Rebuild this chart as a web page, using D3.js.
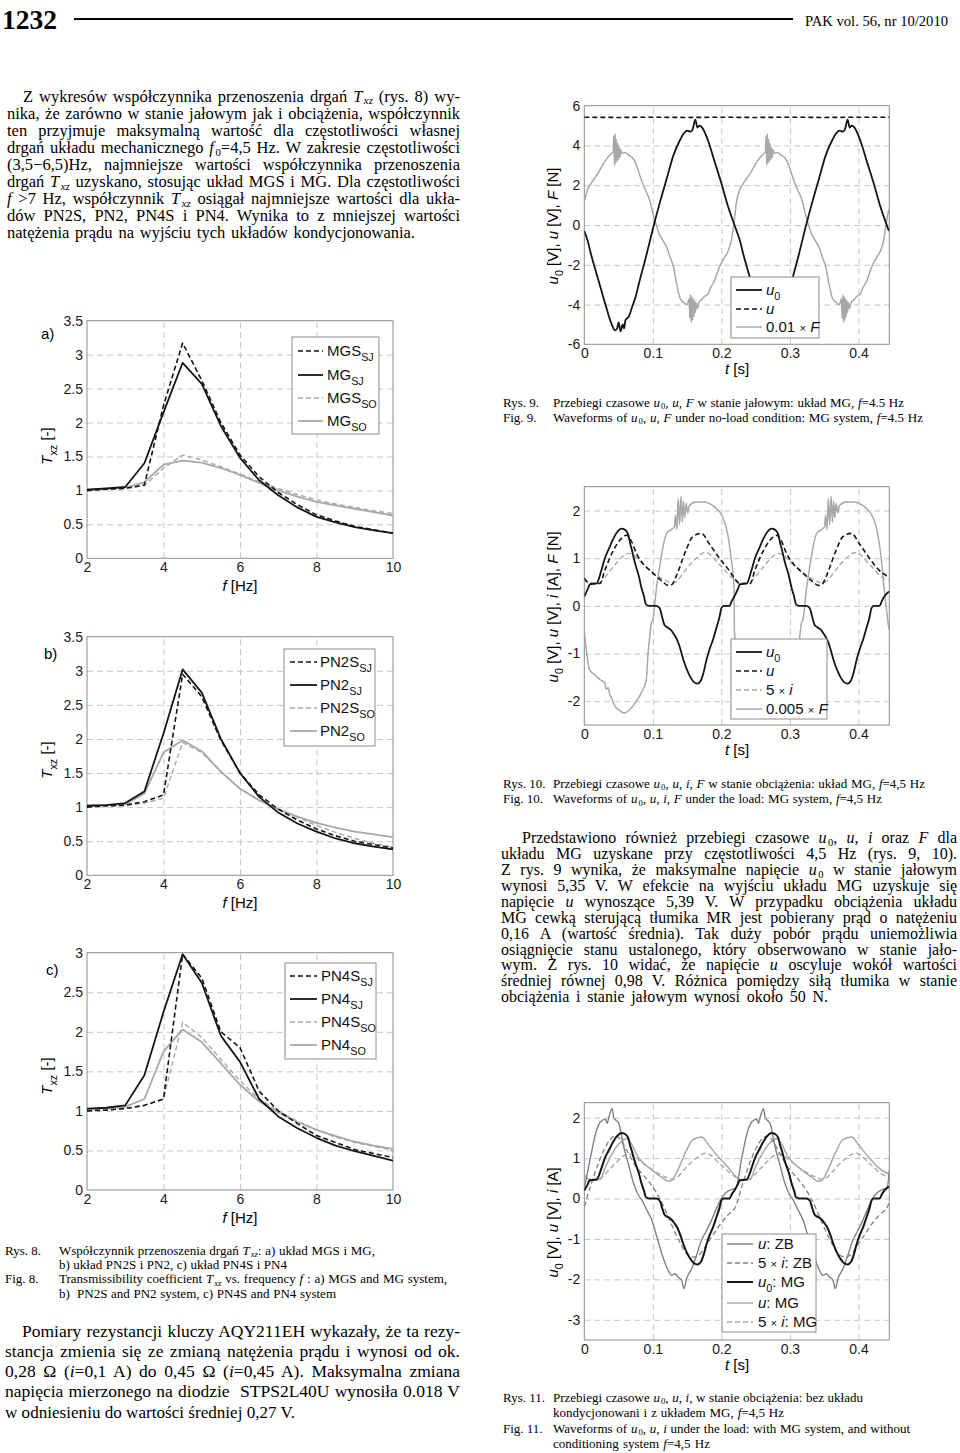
<!DOCTYPE html>
<html><head><meta charset="utf-8">
<script src="https://cdn.jsdelivr.net/npm/d3@7"></script>
<style>body{margin:0;background:#fff}svg{display:block}text{white-space:pre}</style>
</head><body>
<svg id="page" width="960" height="1453"></svg>
<script>
// ---------------- DATA ----------------
const fHz = [2,2.5,3,3.5,4,4.5,5,5.5,6,6.5,7,7.5,8,8.5,9,9.5,10];
const fTicks = [2,4,6,8,10];
const yTicks35 = [0,0.5,1,1.5,2,2.5,3,3.5];
const yTicks30 = [0,0.5,1,1.5,2,2.5,3];
// Fig 8a
const aMGS_SJ = [1.00,1.02,1.03,1.08,2.25,3.17,2.62,2.00,1.52,1.20,0.97,0.79,0.64,0.55,0.47,0.42,0.37];
const aMG_SJ  = [1.01,1.03,1.05,1.40,2.15,2.88,2.57,1.95,1.48,1.15,0.93,0.75,0.61,0.53,0.46,0.41,0.37];
const aMGS_SO = [0.99,1.01,1.03,1.07,1.33,1.52,1.45,1.35,1.24,1.13,1.03,0.94,0.86,0.80,0.75,0.70,0.66];
const aMG_SO  = [1.01,1.02,1.04,1.12,1.38,1.44,1.41,1.33,1.23,1.11,1.00,0.91,0.83,0.78,0.73,0.68,0.63];
const aNames = ["MGS<sub>SJ</sub>","MG<sub>SJ</sub>","MGS<sub>SO</sub>","MG<sub>SO</sub>"];
// Fig 8b
const bPN2S_SJ = [1.00,1.02,1.03,1.08,1.18,2.95,2.62,1.98,1.50,1.18,0.97,0.81,0.68,0.58,0.50,0.45,0.40];
const bPN2_SJ  = [1.02,1.03,1.06,1.23,2.08,3.02,2.68,2.00,1.50,1.15,0.92,0.76,0.64,0.54,0.47,0.42,0.38];
const bPN2S_SO = [1.00,1.01,1.02,1.06,1.13,1.95,1.80,1.52,1.27,1.10,0.97,0.85,0.73,0.63,0.54,0.47,0.41];
const bPN2_SO  = [1.02,1.03,1.04,1.20,1.80,1.98,1.82,1.52,1.27,1.10,0.97,0.86,0.77,0.70,0.64,0.60,0.56];
const bNames = ["PN2S<sub>SJ</sub>","PN2<sub>SJ</sub>","PN2S<sub>SO</sub>","PN2<sub>SO</sub>"];
// Fig 8c
const cPN4S_SJ = [1.00,1.01,1.03,1.07,1.15,2.98,2.68,2.00,1.80,1.25,1.00,0.84,0.69,0.60,0.51,0.46,0.41];
const cPN4_SJ  = [1.03,1.04,1.07,1.45,2.25,2.98,2.62,1.95,1.62,1.15,0.93,0.78,0.66,0.56,0.49,0.43,0.37];
const cPN4S_SO = [1.00,1.01,1.03,1.07,1.15,2.12,1.93,1.65,1.38,1.15,1.00,0.87,0.76,0.67,0.60,0.55,0.50];
const cPN4_SO  = [1.02,1.03,1.05,1.15,1.75,2.03,1.87,1.60,1.33,1.12,0.98,0.86,0.76,0.68,0.61,0.56,0.52];
const cNames = ["PN4S<sub>SJ</sub>","PN4<sub>SJ</sub>","PN4S<sub>SO</sub>","PN4<sub>SO</sub>"];

const tTicks = [0,0.1,0.2,0.3,0.4];
// Fig 9
const y9Ticks = [-6,-4,-2,0,2,4,6];
const t9u0 = [0,0.005,0.01,0.02,0.03,0.04,0.045,0.048,0.05,0.053,0.056,0.058,0.06,0.065,0.07,0.075,0.08,0.09,0.1,0.11,0.12,0.13,0.14,0.145,0.15,0.155,0.158,0.162,0.165,0.168,0.172,0.18,0.19,0.2,0.21,
  0.2222,0.2272,0.2322,0.2422,0.2522,0.2622,0.2672,0.2702,0.2722,0.2752,0.2782,0.2802,0.2822,0.2872,0.2922,0.2972,0.3022,0.3122,0.3222,0.3322,0.3422,0.3522,0.3622,0.3672,0.3722,0.3772,0.3802,0.3842,0.3872,0.3902,0.3942,0.4022,0.4122,0.4222,0.4322,0.4444];
const v9u0 = [-0.3,-0.8,-1.5,-2.7,-3.9,-5.0,-5.3,-5.2,-4.9,-5.35,-5.0,-5.2,-4.8,-4.6,-4.1,-3.6,-2.9,-1.6,-0.2,1.1,2.3,3.5,4.3,4.6,4.75,4.7,4.8,5.3,4.9,5.0,4.9,4.3,3.2,2.1,0.9,
  -0.3,-0.8,-1.5,-2.7,-3.9,-5.0,-5.3,-5.2,-4.9,-5.35,-5.0,-5.2,-4.8,-4.6,-4.1,-3.6,-2.9,-1.6,-0.2,1.1,2.3,3.5,4.3,4.6,4.75,4.7,4.8,5.3,4.9,5.0,4.9,4.3,3.2,2.1,0.9,-0.3];
const t9u = [0,0.05,0.1,0.15,0.2,0.25,0.3,0.35,0.4,0.445];
const v9u = [5.42,5.41,5.42,5.41,5.42,5.41,5.42,5.41,5.42,5.42];
const t9F = [0,0.005,0.01,0.02,0.03,0.04,0.042,0.043,0.044,0.045,0.046,0.047,0.048,0.049,0.05,0.051,0.052,0.053,0.055,0.06,0.065,0.07,0.075,0.08,0.085,0.09,0.095,0.1,0.105,0.11,0.115,0.12,0.125,0.13,0.135,0.14,0.145,0.15,0.153,0.154,0.155,0.156,0.157,0.158,0.159,0.16,0.161,0.162,0.163,0.165,0.167,0.17,0.175,0.18,0.185,0.19,0.195,0.2,0.205,0.21,0.215,0.218,
  0.2222,0.2272,0.2322,0.2422,0.2522,0.2622,0.2642,0.2652,0.2662,0.2672,0.2682,0.2692,0.2702,0.2712,0.2722,0.2732,0.2742,0.2752,0.2772,0.2822,0.2872,0.2922,0.2972,0.3022,0.3072,0.3122,0.3172,0.3222,0.3272,0.3322,0.3372,0.3422,0.3472,0.3522,0.3572,0.3622,0.3672,0.3722,0.3752,0.3762,0.3772,0.3782,0.3792,0.3802,0.3812,0.3822,0.3832,0.3842,0.3852,0.3872,0.3892,0.3922,0.3972,0.4022,0.4072,0.4122,0.4172,0.4222,0.4272,0.4322,0.4372,0.4402,0.4444];
const v9F = [1.2,1.8,2.1,2.6,3.2,3.6,3.65,4.5,3.0,4.6,3.1,4.3,3.2,4.1,3.3,3.9,3.4,3.8,3.6,3.65,3.5,3.4,3.1,2.6,2.1,1.7,1.3,0.6,0.0,-0.5,-0.8,-1.1,-1.6,-2.1,-3.0,-3.7,-3.9,-4.0,-3.7,-4.7,-3.5,-4.9,-3.6,-4.8,-3.7,-4.6,-3.8,-4.4,-3.9,-4.2,-3.9,-3.8,-3.6,-3.5,-3.1,-2.8,-2.3,-1.9,-1.6,-1.3,-0.7,0.0,
  1.2,1.8,2.1,2.6,3.2,3.6,3.65,4.5,3.0,4.6,3.1,4.3,3.2,4.1,3.3,3.9,3.4,3.8,3.6,3.65,3.5,3.4,3.1,2.6,2.1,1.7,1.3,0.6,0.0,-0.5,-0.8,-1.1,-1.6,-2.1,-3.0,-3.7,-3.9,-4.0,-3.7,-4.7,-3.5,-4.9,-3.6,-4.8,-3.7,-4.6,-3.8,-4.4,-3.9,-4.2,-3.9,-3.8,-3.6,-3.5,-3.1,-2.8,-2.3,-1.9,-1.6,-1.3,-0.7,0.0,0.8];
const names9 = ["<i>u</i><sub>0</sub>","<i>u</i>","0.01 <small>×</small> <i>F</i>"];

// Fig 10
const y10Ticks = [-2,-1,0,1,2];
const t10u0 = [0,0.005,0.008,0.018,0.025,0.03,0.036,0.042,0.048,0.054,0.059,0.064,0.067,0.069,0.073,0.076,0.08,0.083,0.087,0.09,0.095,0.105,0.11,0.113,0.117,0.121,0.126,0.131,0.135,0.14,0.145,0.15,0.155,0.16,0.165,0.17,0.174,0.178,0.183,0.188,0.193,0.197,0.2,0.203,0.212,0.215,
  0.219,0.224,0.227,0.237,0.244,0.249,0.255,0.261,0.267,0.273,0.278,0.283,0.286,0.288,0.292,0.295,0.299,0.302,0.306,0.309,0.314,0.324,0.329,0.332,0.336,0.34,0.345,0.35,0.354,0.359,0.364,0.369,0.374,0.379,0.384,0.389,0.393,0.397,0.402,0.407,0.412,0.416,0.419,0.422,0.431,0.434,0.438,0.4445];
const v10u0 = [0.2,0.35,0.45,0.47,0.75,1.0,1.2,1.4,1.55,1.62,1.6,1.5,1.3,1.2,0.95,0.8,0.6,0.4,0.2,0.03,0.0,0.0,-0.05,-0.2,-0.4,-0.45,-0.5,-0.6,-0.7,-0.9,-1.15,-1.35,-1.5,-1.6,-1.63,-1.57,-1.4,-1.15,-0.9,-0.7,-0.45,-0.25,-0.05,0.0,0.0,0.1,
  0.2,0.35,0.45,0.47,0.75,1.0,1.2,1.4,1.55,1.62,1.6,1.5,1.3,1.2,0.95,0.8,0.6,0.4,0.2,0.03,0.0,0.0,-0.05,-0.2,-0.4,-0.45,-0.5,-0.6,-0.7,-0.9,-1.15,-1.35,-1.5,-1.6,-1.63,-1.57,-1.4,-1.15,-0.9,-0.7,-0.45,-0.25,-0.05,0.0,0.0,0.1,0.2,0.3];
const t10u = [0,0.008,0.023,0.03,0.042,0.052,0.061,0.069,0.076,0.086,0.095,0.105,0.115,0.122,0.128,0.134,0.1485,0.158,0.171,0.182,0.197,0.211,
  0.219,0.227,0.242,0.249,0.261,0.271,0.28,0.288,0.295,0.305,0.314,0.324,0.334,0.341,0.347,0.353,0.3675,0.377,0.39,0.401,0.416,0.43,0.4445];
const v10u = [0.58,0.47,0.47,0.75,1.15,1.38,1.48,1.35,1.1,0.88,0.75,0.62,0.5,0.43,0.45,0.62,1.17,1.45,1.52,1.31,1.0,0.75,
  0.58,0.47,0.47,0.75,1.15,1.38,1.48,1.35,1.1,0.88,0.75,0.62,0.5,0.43,0.45,0.62,1.17,1.45,1.52,1.31,1.0,0.75,0.6];
const t10i = [0,0.008,0.02,0.03,0.04,0.05,0.058,0.064,0.072,0.08,0.09,0.1,0.11,0.12,0.128,0.135,0.145,0.155,0.165,0.172,0.178,0.185,0.195,0.205,0.213,
  0.219,0.227,0.239,0.249,0.259,0.269,0.277,0.283,0.291,0.299,0.309,0.319,0.329,0.339,0.347,0.354,0.364,0.374,0.384,0.391,0.397,0.404,0.414,0.424,0.432,0.4445];
const v10i = [0.55,0.47,0.47,0.6,0.78,0.95,1.06,1.1,1.06,0.95,0.82,0.7,0.6,0.52,0.48,0.52,0.7,0.88,1.02,1.1,1.12,1.06,0.9,0.75,0.62,
  0.55,0.47,0.47,0.6,0.78,0.95,1.06,1.1,1.06,0.95,0.82,0.7,0.6,0.52,0.48,0.52,0.7,0.88,1.02,1.1,1.12,1.06,0.9,0.75,0.62,0.55];
const t10F = [0,0.008,0.0155,0.023,0.03,0.032,0.035,0.037,0.04,0.0445,0.052,0.059,0.066,0.076,0.083,0.0905,0.093,0.095,0.098,0.1,0.105,0.11,0.115,0.12,0.127,0.1315,0.133,0.135,0.137,0.139,0.141,0.143,0.1447,0.1466,0.1485,0.151,0.153,0.163,0.173,0.182,0.192,0.2017,0.209,0.214,0.2186,
  0.219,0.227,0.2345,0.242,0.249,0.251,0.254,0.256,0.259,0.2635,0.271,0.278,0.285,0.295,0.302,0.3095,0.312,0.314,0.317,0.319,0.324,0.329,0.334,0.339,0.346,0.3505,0.352,0.354,0.356,0.358,0.36,0.362,0.3637,0.3656,0.3675,0.37,0.372,0.382,0.392,0.401,0.411,0.4207,0.428,0.433,0.4376,0.4445];
const v10F = [-0.54,-1.35,-1.45,-1.55,-1.62,-1.75,-1.72,-1.85,-1.94,-2.1,-2.2,-2.25,-2.18,-2.0,-1.83,-1.55,-1.0,-0.7,-0.35,-0.3,0.34,0.82,1.25,1.52,1.6,1.66,1.9,1.6,2.25,1.7,2.3,1.75,2.2,1.85,2.15,1.95,2.1,2.18,2.18,2.15,2.05,1.87,1.52,1.03,0.34,
  -0.54,-1.35,-1.45,-1.55,-1.62,-1.75,-1.72,-1.85,-1.94,-2.1,-2.2,-2.25,-2.18,-2.0,-1.83,-1.55,-1.0,-0.7,-0.35,-0.3,0.34,0.82,1.25,1.52,1.6,1.66,1.9,1.6,2.25,1.7,2.3,1.75,2.2,1.85,2.15,1.95,2.1,2.18,2.18,2.15,2.05,1.87,1.52,1.03,0.34,-0.5];
const names10 = ["<i>u</i><sub>0</sub>","<i>u</i>","5 <small>×</small> <i>i</i>","0.005 <small>×</small> <i>F</i>"];

// Fig 11
const y11Ticks = [-3,-2,-1,0,1,2];
const t11uZB = [0,0.0092,0.0164,0.0237,0.031,0.0333,0.0357,0.0406,0.043,0.0454,0.0502,0.0575,0.0647,0.072,0.0792,0.084,0.0913,0.0986,0.1058,0.113,0.1203,0.1275,0.1324,0.1372,0.142,0.1454,0.1493,0.1565,0.1638,0.171,0.1783,0.1855,0.1928,0.2,0.207,0.2145,
  0.2208,0.23,0.2372,0.2445,0.2518,0.2541,0.2565,0.2614,0.2638,0.2662,0.271,0.2783,0.2855,0.2928,0.3,0.3048,0.3121,0.3194,0.3266,0.3338,0.3411,0.3483,0.3532,0.358,0.3628,0.3662,0.3701,0.3773,0.3846,0.3918,0.3991,0.4063,0.4136,0.4208,0.4278,0.4353,0.4416,0.445];
const v11uZB = [0.25,1.03,1.6,1.9,1.96,1.86,2.0,2.23,2.0,1.95,1.86,1.28,0.83,0.37,0.08,-0.04,-0.29,-0.54,-0.95,-1.36,-1.7,-1.9,-1.86,-1.95,-2.02,-2.23,-1.98,-1.74,-1.4,-1.03,-0.79,-0.54,-0.25,0.0,0.15,0.22,
  0.25,1.03,1.6,1.9,1.96,1.86,2.0,2.23,2.0,1.95,1.86,1.28,0.83,0.37,0.08,-0.04,-0.29,-0.54,-0.95,-1.36,-1.7,-1.9,-1.86,-1.95,-2.02,-2.23,-1.98,-1.74,-1.4,-1.03,-0.79,-0.54,-0.25,0.0,0.15,0.22,0.25,0.7];
const t11iZB = [0,0.01,0.02,0.03,0.04,0.047,0.055,0.065,0.075,0.085,0.095,0.105,0.11,0.12,0.13,0.14,0.15,0.16,0.17,0.18,0.19,0.2,0.21,
  0.2208,0.2308,0.2408,0.2508,0.2608,0.2678,0.2758,0.2858,0.2958,0.3058,0.3158,0.3258,0.3308,0.3408,0.3508,0.3608,0.3708,0.3808,0.3908,0.4008,0.4108,0.4208,0.4308,0.4416,0.445];
const v11iZB = [-0.2,0.35,0.85,1.25,1.5,1.55,1.4,1.1,0.8,0.6,0.4,0.15,0.0,-0.35,-0.75,-1.1,-1.38,-1.45,-1.35,-1.1,-0.85,-0.6,-0.4,
  -0.2,0.35,0.85,1.25,1.5,1.55,1.4,1.1,0.8,0.6,0.4,0.15,0.0,-0.35,-0.75,-1.1,-1.38,-1.45,-1.35,-1.1,-0.85,-0.6,-0.4,-0.22,-0.1];
const names11 = ["<i>u</i>: ZB","5 <small>×</small> <i>i</i>: ZB","<i>u</i><sub>0</sub>: MG","<i>u</i>: MG","5 <small>×</small> <i>i</i>: MG"];

// ---------------- TEXT ----------------
const paraTop = [
  "Z wykresów współczynnika przenoszenia drgań <i>T</i><isub>xz</isub> (rys. 8) wy-",
  "nika, że zarówno w stanie jałowym jak i obciążenia, współczynnik",
  "ten przyjmuje maksymalną wartość dla częstotliwości własnej",
  "drgań układu mechanicznego <i>f</i><sub>0</sub>=4,5 Hz. W zakresie częstotliwości",
  "(3,5−6,5)Hz, najmniejsze wartości współczynnika przenoszenia",
  "drgań <i>T</i><isub>xz</isub> uzyskano, stosując układ MGS i MG. Dla częstotliwości",
  "<i>f</i> >7 Hz, współczynnik <i>T</i><isub>xz</isub> osiągał najmniejsze wartości dla ukła-",
  "dów PN2S, PN2, PN4S i PN4. Wynika to z mniejszej wartości",
  "natężenia prądu na wyjściu tych układów kondycjonowania."
];
const paraRight = [
  "Przedstawiono również przebiegi czasowe <i>u</i><sub>0</sub>, <i>u</i>, <i>i</i> oraz <i>F</i> dla",
  "układu MG uzyskane przy częstotliwości 4,5 Hz (rys. 9, 10).",
  "Z rys. 9 wynika, że maksymalne napięcie <i>u</i><sub>0</sub> w stanie jałowym",
  "wynosi 5,35 V. W efekcie na wyjściu układu MG uzyskuje się",
  "napięcie <i>u</i> wynoszące 5,39 V. W przypadku obciążenia układu",
  "MG cewką sterującą tłumika MR jest pobierany prąd o natężeniu",
  "0,16 A (wartość średnia). Tak duży pobór prądu uniemożliwia",
  "osiągnięcie stanu ustalonego, który obserwowano w stanie jało-",
  "wym. Z rys. 10 widać, że napięcie <i>u</i> oscyluje wokół wartości",
  "średniej równej 0,98 V. Różnica pomiędzy siłą tłumika w stanie",
  "obciążenia i stanie jałowym wynosi około 50 N."
];
const paraBottom = [
  "Pomiary rezystancji kluczy AQY211EH wykazały, że ta rezy-",
  "stancja zmienia się ze zmianą natężenia prądu i wynosi od ok.",
  "0,28 Ω (<i>i</i>=0,1 A) do 0,45 Ω (<i>i</i>=0,45 A). Maksymalna zmiana",
  "napięcia mierzonego na diodzie  STPS2L40U wynosiła 0.018 V",
  "w odniesieniu do wartości średniej 0,27 V."
];
const cap8 = [
  ["Rys. 8.","Współczynnik przenoszenia drgań <i>T</i><isub>xz</isub>: a) układ MGS i MG,"],
  ["","b) układ PN2S i PN2, c) układ PN4S i PN4"],
  ["Fig. 8.","Transmissibility coefficient <i>T</i><isub>xz</isub> vs. frequency <i>f</i> : a) MGS and MG system,"],
  ["","b)  PN2S and PN2 system, c) PN4S and PN4 system"]
];
const cap9 = [
  ["Rys. 9.","Przebiegi czasowe <i>u</i><sub>0</sub>, <i>u</i>, <i>F</i> w stanie jałowym: układ MG, <i>f</i>=4.5 Hz"],
  ["Fig. 9.","Waveforms of <i>u</i><sub>0</sub>, <i>u</i>, <i>F</i> under no-load condition: MG system, <i>f</i>=4.5 Hz"]
];
const cap10 = [
  ["Rys. 10.","Przebiegi czasowe <i>u</i><sub>0</sub>, <i>u</i>, <i>i</i>, <i>F</i> w stanie obciążenia: układ MG, <i>f</i>=4,5 Hz"],
  ["Fig. 10.","Waveforms of <i>u</i><sub>0</sub>, <i>u</i>, <i>i</i>, <i>F</i> under the load: MG system, <i>f</i>=4,5 Hz"]
];
const cap11 = [
  ["Rys. 11.","Przebiegi czasowe <i>u</i><sub>0</sub>, <i>u</i>, <i>i</i>, w stanie obciążenia: bez układu"],
  ["","kondycjonowani i z układem MG, <i>f</i>=4,5 Hz"],
  ["Fig. 11.","Waveforms of <i>u</i><sub>0</sub>, <i>u</i>, <i>i</i> under the load: with MG system, and without"],
  ["","conditioning system <i>f</i>=4,5 Hz"]
];

// ---------------- DRAWING ----------------
const SANS = "'Liberation Sans', Arial, sans-serif";
const SERIF = "'Liberation Serif', 'Times New Roman', serif";
const BLACK = "#151515", LGRAY = "#a8a8a8", MGRAY = "#808080", GRID = "#c6c6c6", BOX = "#8c8c8c";
const TICK = 14, TITLE = 15, LEG = 15;
const svg = d3.select("#page");
svg.append("rect").attr("width",960).attr("height",1453).attr("fill","#fff");

function rich(parent, x, y, str, o) {
  const t = parent.append("text").attr("x", x).attr("y", y)
    .attr("font-family", o.font).attr("font-size", o.size).attr("fill", o.fill || "#000");
  if (o.anchor) t.attr("text-anchor", o.anchor);
  if (o.weight) t.attr("font-weight", o.weight);
  if (o.transform) t.attr("transform", o.transform);
  const re = /<(i|sub|isub|small)>(.*?)<\/\1>/g;
  let last = 0, m; const parts = [];
  while ((m = re.exec(str))) {
    if (m.index > last) parts.push(["n", str.slice(last, m.index)]);
    parts.push([m[1], m[2]]); last = re.lastIndex;
  }
  if (last < str.length) parts.push(["n", str.slice(last)]);
  const sub = o.size * (o.subShift || 0.3);
  let shift = 0, prev = "", extra = 0;
  parts.forEach(([k, s]) => {
    const ts = t.append("tspan").text(s);
    const isSub = (k === "sub" || k === "isub");
    const want = isSub ? sub : 0;
    if (want !== shift) { ts.attr("dy", want - shift); shift = want; }
    if (isSub && prev === "i" && o.subGap) { ts.attr("dx", o.subGap); extra += o.subGap; }
    if (k === "i" || k === "isub") ts.attr("font-style", "italic");
    if (isSub) ts.attr("font-size", o.size * (o.subScale || 0.72));
    if (k === "small") ts.attr("font-size", o.size * 0.75);
    prev = k;
  });
  t.property("__extra", extra);
  return t;
}
function fit(t, target) {
  const node = t.node();
  const w = node.getComputedTextLength() + (node.__extra || 0);
  const n = (node.textContent.match(/ /g) || []).length;
  if (w > target) t.attr("textLength", target - (node.__extra || 0)).attr("lengthAdjust", "spacingAndGlyphs");
  else if (n > 0) t.style("word-spacing", ((target - w) / n) + "px");
}
function paragraph(lines, o) {
  lines.forEach((s, i) => {
    const x = i === 0 ? o.indentX : o.x;
    const t = rich(svg, x, o.y0 + i * o.dy, s, {font: SERIF, size: o.size, subShift: 0.18, subScale: 0.66, subGap: 1.5});
    if (i < lines.length - 1) fit(t, o.right - x);
    else if (o.lastRight) fit(t, o.lastRight - x);
  });
}
function caption(rows, o) {
  rows.forEach((r, i) => {
    const y = o.y0 + i * o.dy;
    if (r[0]) rich(svg, o.lx, y, r[0], {font: SERIF, size: o.size});
    const t = rich(svg, o.tx, y, r[1], {font: SERIF, size: o.size, subShift: 0.18, subScale: 0.66, subGap: 1});
    if (o.ends && o.ends[i]) fit(t, o.ends[i] - o.tx);
  });
}

// header
const h = rich(svg, 2, 29, "1232", {font: SERIF, size: 28, weight: "bold"});
h.attr("textLength", 55).attr("lengthAdjust", "spacingAndGlyphs");
svg.append("line").attr("x1", 74).attr("x2", 793).attr("y1", 19).attr("y2", 19).attr("stroke", "#000").attr("stroke-width", 2);
rich(svg, 805, 26, "PAK vol. 56, nr 10/2010", {font: SERIF, size: 14.5})
  .attr("textLength", 143).attr("lengthAdjust", "spacingAndGlyphs");

paragraph(paraTop, {x: 7, indentX: 23, right: 460, y0: 101.5, dy: 17.1, size: 16.5, lastRight: 415});
paragraph(paraRight, {x: 501, indentX: 522, right: 957, y0: 843, dy: 15.93, size: 16, lastRight: 828});
paragraph(paraBottom, {x: 5, indentX: 22, right: 460, y0: 1336.5, dy: 20.3, size: 17.5, lastRight: 295});

caption(cap8, {lx: 5, tx: 59, y0: 1254.5, dy: 14.4, size: 13, ends: [375, 287, 447, 336]});
caption(cap9, {lx: 503, tx: 553, y0: 406.5, dy: 15.4, size: 13, ends: [904, 923]});
caption(cap10, {lx: 503, tx: 553, y0: 788, dy: 15.2, size: 13, ends: [925, 882]});
caption(cap11, {lx: 503, tx: 553, y0: 1402, dy: 15.4, size: 13, ends: [863, 784, 910, 710]});

let clipId = 0;
function frame(g, x, y, xTicks, yTicks, fmt) {
  const [x0, x1] = x.range(), [yb, yt] = y.range();
  const [dx0, dx1] = x.domain(), [dy0, dy1] = y.domain();
  g.append("rect").attr("x", x0).attr("y", yt).attr("width", x1 - x0).attr("height", yb - yt).attr("fill", "#fff");
  const gx = g.append("g").attr("transform", `translate(0,${yb})`)
    .call(d3.axisBottom(x).tickValues(xTicks.filter(v => v > dx0 + 1e-9 && v < dx1 - 1e-9)).tickSize(-(yb - yt)).tickFormat(""));
  const gy = g.append("g").attr("transform", `translate(${x0},0)`)
    .call(d3.axisLeft(y).tickValues(yTicks.filter(v => v > dy0 + 1e-9 && v < dy1 - 1e-9)).tickSize(-(x1 - x0)).tickFormat(""));
  [gx, gy].forEach(a => { a.select(".domain").remove();
    a.selectAll("line").attr("stroke", GRID).attr("stroke-dasharray", "6,4").attr("stroke-width", 1); });
  g.append("rect").attr("x", x0).attr("y", yt).attr("width", x1 - x0).attr("height", yb - yt)
    .attr("fill", "none").attr("stroke", BOX).attr("stroke-width", 1);
  const lx = g.append("g").attr("transform", `translate(0,${yb})`)
    .call(d3.axisBottom(x).tickValues(xTicks).tickSize(0).tickPadding(4).tickFormat(fmt));
  const ly = g.append("g").attr("transform", `translate(${x0},0)`)
    .call(d3.axisLeft(y).tickValues(yTicks).tickSize(0).tickPadding(4).tickFormat(fmt));
  [lx, ly].forEach(a => { a.select(".domain").remove();
    a.selectAll("text").attr("font-family", SANS).attr("font-size", TICK).attr("fill", "#1a1a1a"); });
  const id = "clip" + (clipId++);
  g.append("clipPath").attr("id", id).append("rect").attr("x", x0).attr("y", yt).attr("width", x1 - x0).attr("height", yb - yt);
  return g.append("g").attr("clip-path", `url(#${id})`);
}
function series(g, pts, x, y, s, curve) {
  g.append("path").datum(pts)
    .attr("d", d3.line().x(d => x(d[0])).y(d => y(d[1])).curve(curve || d3.curveLinear))
    .attr("fill", "none").attr("stroke", s.color).attr("stroke-width", s.w)
    .attr("stroke-dasharray", s.dash || null).attr("stroke-linejoin", "round");
}
function legend(g, box, rows, lineX, textX, styles, names) {
  g.append("rect").attr("x", box[0]).attr("y", box[1]).attr("width", box[2]).attr("height", box[3])
    .attr("fill", "#fff").attr("stroke", BOX).attr("stroke-width", 1);
  styles.forEach((s, i) => {
    g.append("line").attr("x1", lineX[0]).attr("x2", lineX[1]).attr("y1", rows[i]).attr("y2", rows[i])
      .attr("stroke", s.color).attr("stroke-width", s.w).attr("stroke-dasharray", s.dash || null);
    rich(g, textX, rows[i] + 5, names[i], {font: SANS, size: LEG, fill: "#111", subShift: 0.3});
  });
}
const fmt = d => String(d);

function freqChart(c) {
  const g = svg.append("g");
  const x = d3.scaleLinear().domain([2, 10]).range([87, 393]);
  const y = d3.scaleLinear().domain([0, c.yMax]).range([c.yb, c.yt]);
  const pg = frame(g, x, y, fTicks, c.yTicks, fmt);
  const styles = [
    {color: BLACK, w: 1.6, dash: "5,3"}, {color: BLACK, w: 1.8},
    {color: LGRAY, w: 1.4, dash: "5,3"}, {color: LGRAY, w: 1.8}];
  [3, 2, 1, 0].forEach(i => series(pg, d3.zip(fHz, c.data[i]), x, y, styles[i]));
  legend(g, c.box, c.rows, c.lineX, c.textX, styles, c.names);
  rich(g, c.labX, c.labY, c.label, {font: SANS, size: TITLE});
  rich(g, 0, 0, "<i>T</i><sub>xz</sub> [-]", {font: SANS, size: TITLE, anchor: "middle",
    transform: `translate(52,${c.titleY}) rotate(-90)`});
  rich(g, 240, c.yb + 33, "<i>f</i> [Hz]", {font: SANS, size: TITLE, anchor: "middle"});
}
freqChart({yMax: 3.5, yTicks: yTicks35, yb: 558.3, yt: 320.7, data: [aMGS_SJ, aMG_SJ, aMGS_SO, aMG_SO], names: aNames,
  box: [292, 337, 87, 97], rows: [351, 375, 398, 421], lineX: [298, 323], textX: 327, label: "a)", labX: 41, labY: 339, titleY: 446});
freqChart({yMax: 3.5, yTicks: yTicks35, yb: 875.3, yt: 636.7, data: [bPN2S_SJ, bPN2_SJ, bPN2S_SO, bPN2_SO], names: bNames,
  box: [284, 649, 91, 97], rows: [662, 685, 708, 731], lineX: [290, 317], textX: 320, label: "b)", labX: 44, labY: 659, titleY: 760});
freqChart({yMax: 3, yTicks: yTicks30, yb: 1190, yt: 952.7, data: [cPN4S_SJ, cPN4_SJ, cPN4S_SO, cPN4_SO], names: cNames,
  box: [285, 963, 91, 96], rows: [976, 999, 1022, 1045], lineX: [290, 317], textX: 321, label: "c)", labX: 46, labY: 975, titleY: 1076});

function timeChart(c) {
  const g = svg.append("g");
  const x = d3.scaleLinear().domain([0, 0.445]).range([584.3, 889.3]);
  const y = d3.scaleLinear().domain(c.yDom).range([c.yb, c.yt]);
  const pg = frame(g, x, y, tTicks, c.yTicks, fmt);
  c.order.forEach(i => series(pg, d3.zip(c.t[i], c.v[i]), x, y, c.styles[i], d3.curveMonotoneX));
  legend(g, c.box, c.rows, c.lineX, c.textX, c.styles, c.names);
  rich(g, 0, 0, c.yTitle, {font: SANS, size: TITLE, anchor: "middle", transform: `translate(558,${(c.yb + c.yt) / 2 + 1}) rotate(-90)`});
  rich(g, 737, c.yb + 30, "<i>t</i> [s]", {font: SANS, size: TITLE, anchor: "middle"});
}
timeChart({yDom: [-6, 6], yTicks: y9Ticks, yb: 344.3, yt: 105.7,
  t: [t9u0, t9u, t9F], v: [v9u0, v9u, v9F], order: [2, 0, 1],
  styles: [{color: BLACK, w: 1.8}, {color: BLACK, w: 1.6, dash: "5,3"}, {color: LGRAY, w: 1.5}],
  names: names9, box: [731, 277, 88, 61], rows: [290, 309, 327], lineX: [736, 762], textX: 766,
  yTitle: "<i>u</i><sub>0</sub> [V], <i>u</i> [V], <i>F</i> [N]"});
timeChart({yDom: [-2.5, 2.5], yTicks: y10Ticks, yb: 725, yt: 486.7,
  t: [t10u0, t10u, t10i, t10F], v: [v10u0, v10u, v10i, v10F], order: [3, 2, 1, 0],
  styles: [{color: BLACK, w: 1.8}, {color: BLACK, w: 1.6, dash: "5,3"}, {color: LGRAY, w: 1.4, dash: "5,3"}, {color: LGRAY, w: 1.5}],
  names: names10, box: [731, 639, 96, 80], rows: [652, 671, 690, 709], lineX: [736, 762], textX: 766,
  yTitle: "<i>u</i><sub>0</sub> [V], <i>u</i> [V], <i>i</i> [A], <i>F</i> [N]"});
timeChart({yDom: [-3.5, 2.37], yTicks: y11Ticks, yb: 1340, yt: 1102.7,
  t: [t11uZB, t11iZB, t10u0, t10u, t10i], v: [v11uZB, v11iZB, v10u0, v10u, v10i], order: [4, 3, 1, 0, 2],
  styles: [{color: MGRAY, w: 1.4}, {color: MGRAY, w: 1.3, dash: "5,3"}, {color: BLACK, w: 2}, {color: LGRAY, w: 1.5}, {color: LGRAY, w: 1.4, dash: "5,3"}],
  names: names11, box: [722, 1234, 94, 98], rows: [1244, 1263, 1282, 1303, 1322], lineX: [727, 753], textX: 758,
  yTitle: "<i>u</i><sub>0</sub> [V], <i>u</i> [V], <i>i</i> [A]"});
</script>
</body></html>
